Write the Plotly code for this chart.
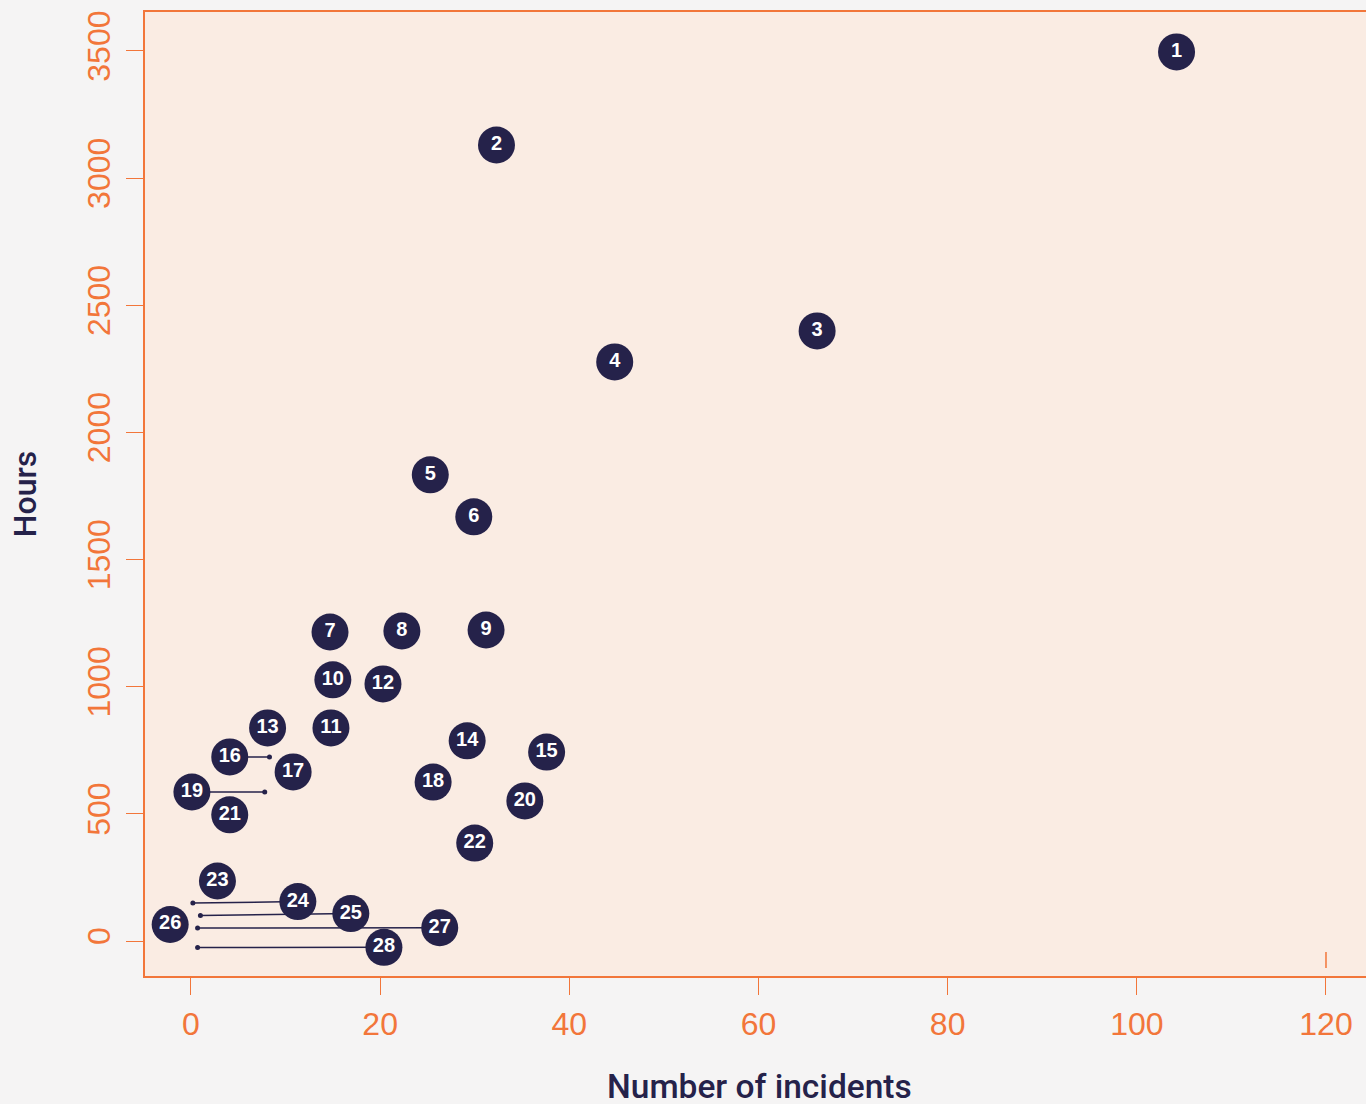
import plotly.graph_objects as go

# ---- data ----
ids = [str(i) for i in range(1, 29)]
incidents = [104.2, 32.3, 66.2, 44.8, 25.3, 29.9, 14.7, 22.3, 31.2, 15.0,
             14.8, 20.3, 8.1, 29.2, 37.6, 8.3, 10.8, 25.6, 7.8, 35.3,
             4.1, 30.0, 2.8, 0.2, 1.0, -2.2, 0.7, 0.7]
hours = [3496, 3130, 2399, 2277, 1833, 1668, 1215, 1219, 1223, 1027,
         838, 1011, 838, 787, 743, 724, 665, 625, 586, 551,
         496, 385, 236, 149, 100, 65, 51, -26]
# label positions (same as point unless the label was moved off its point)
label_x = [104.2, 32.3, 66.2, 44.8, 25.3, 29.9, 14.7, 22.3, 31.2, 15.0,
           14.8, 20.3, 8.1, 29.2, 37.6, 4.1, 10.8, 25.6, 0.1, 35.3,
           4.1, 30.0, 2.8, 11.3, 16.9, -2.2, 26.3, 20.4]
label_y = [3496, 3130, 2399, 2277, 1833, 1668, 1215, 1219, 1223, 1027,
           838, 1011, 838, 787, 743, 724, 665, 625, 586, 551,
           496, 385, 236, 155, 108, 65, 52, -25]
moved = [16, 19, 24, 25, 27, 28]

x_ticks = [0, 20, 40, 60, 80, 100, 120]
y_ticks = [0, 500, 1000, 1500, 2000, 2500, 3000, 3500]
x_range = [-4.86, 124.23]
y_range = [-137.6, 3653]
stray_x = [120, 120]
stray_y = [-43, -106]

NAVY = "#25224a"
ORANGE = "#f2763a"
FONT = "Liberation Sans, Arial, Helvetica, sans-serif"
TITLE_FONT = "Roboto, Liberation Sans, Arial, sans-serif"

fig = go.Figure()

# leader lines
for k in moved:
    i = k - 1
    fig.add_trace(go.Scatter(
        x=[incidents[i], label_x[i]], y=[hours[i], label_y[i]],
        mode="lines", line=dict(color=NAVY, width=1.5),
        hoverinfo="skip", showlegend=False))
fig.add_trace(go.Scatter(
    x=[incidents[k - 1] for k in moved], y=[hours[k - 1] for k in moved],
    mode="markers", marker=dict(color=NAVY, size=5),
    hoverinfo="skip", showlegend=False))

# stray orange mark
fig.add_trace(go.Scatter(x=stray_x, y=stray_y, mode="lines",
                         line=dict(color=ORANGE, width=1.5),
                         hoverinfo="skip", showlegend=False))

# labelled circles
fig.add_trace(go.Scatter(
    x=label_x, y=label_y, mode="markers+text", text=ids,
    marker=dict(color=NAVY, size=37, line=dict(width=0)),
    textposition="middle center",
    textfont=dict(color="white", size=20, family=FONT, weight="bold"),
    showlegend=False))

axis_common = dict(
    showgrid=False, zeroline=False, showline=True, linecolor=ORANGE,
    linewidth=1.5, ticks="outside", ticklen=17, tickwidth=1.3,
    tickcolor=ORANGE, tickfont=dict(color=ORANGE, size=32, family=FONT),
    automargin=False,
)

fig.update_layout(
    width=1366, height=1104,
    margin=dict(l=145, r=0, t=12, b=128),
    paper_bgcolor="#f5f4f4", plot_bgcolor="#faece3",
    xaxis=dict(range=x_range, tickvals=x_ticks, mirror=True,
               ticklabelstandoff=2, **axis_common),
    yaxis=dict(range=y_range, tickvals=y_ticks, mirror=False,
               tickangle=-90, ticklabelstandoff=3,
               title=dict(text="Hours", standoff=35,
                          font=dict(color=NAVY, size=32, family=TITLE_FONT,
                                    weight=500)),
               **axis_common),
    annotations=[dict(
        text="Number of incidents", xref="paper", yref="paper",
        x=(759 - 145) / 1221, y=-0.1145, xanchor="center", yanchor="middle",
        showarrow=False,
        font=dict(color=NAVY, size=33.5, family=TITLE_FONT, weight=500))],
)

fig.write_html(
    "out.html",
    config={"displayModeBar": False},
    post_script="document.body.style.margin='0';document.body.style.overflow='hidden';",
)
